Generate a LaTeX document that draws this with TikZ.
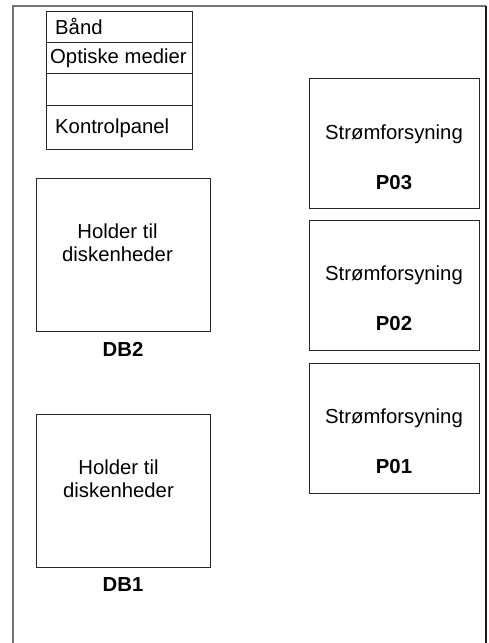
\documentclass[tikz,border=0pt]{standalone}
\usepackage{fontspec}
\setmainfont{Liberation Sans}
\begin{document}
\begin{tikzpicture}[x=1pt,y=-1pt,
  box/.style={draw=black!85, line width=1pt, inner sep=0pt, outer sep=0pt},
  cell/.style={box, minimum width=146pt, anchor=north west},
  lbl/.style={font=\fontsize{20.3}{23}\selectfont, inner sep=0pt, align=center},
  celltxt/.style={font=\fontsize{20.3}{23}\selectfont, inner sep=0pt, anchor=west},
  bold/.style={font=\fontsize{20.3}{23}\selectfont\bfseries, inner sep=0pt}]
\useasboundingbox (0,0) rectangle (488,643);
% outer frame (open at bottom)
\draw[black!55, line width=1.5pt] (13,643) -- (13,6) -- (486,6);
\draw[black!90, line width=1.3pt] (486,6) -- (486,643);
% top stack
\node[cell, minimum height=31pt] (band) at (46,11) {};
\node[cell, minimum height=31pt] (opt) at (46,42) {};
\node[cell, minimum height=32pt] (empty) at (46,73) {};
\node[cell, minimum height=44pt] (kontrol) at (46,105) {};
\node[celltxt] (tband) at (55,26) {Bånd};
\node[celltxt] (topt) at (50,58.5) {Optiske medier};
\node[celltxt] (tkontrol) at (55,128) {Kontrolpanel};
% disk holders
\node[box, minimum width=174pt, minimum height=153pt] (db2) at (123,254.5) {};
\node[lbl] (tdb2) at (117.5,243) {Holder til\\diskenheder};
\node[bold] (ldb2) at (123,349) {DB2};
\node[box, minimum width=174pt, minimum height=153pt] (db1) at (123,490.5) {};
\node[lbl] (tdb1) at (118.5,479) {Holder til\\diskenheder};
\node[bold] (ldb1) at (123,585) {DB1};
% power supplies
\node[box, minimum width=170pt, minimum height=130pt] (p03) at (394,143) {};
\node[lbl] (tp03) at (394,134) {Strømforsyning};
\node[bold] (lp03) at (394,183) {P03};
\node[box, minimum width=170pt, minimum height=130pt] (p02) at (394,285) {};
\node[lbl] (tp02) at (394,275) {Strømforsyning};
\node[bold] (lp02) at (394,324) {P02};
\node[box, minimum width=170pt, minimum height=130pt] (p01) at (394,428) {};
\node[lbl] (tp01) at (394,418) {Strømforsyning};
\node[bold] (lp01) at (394,467) {P01};
\end{tikzpicture}
\end{document}
